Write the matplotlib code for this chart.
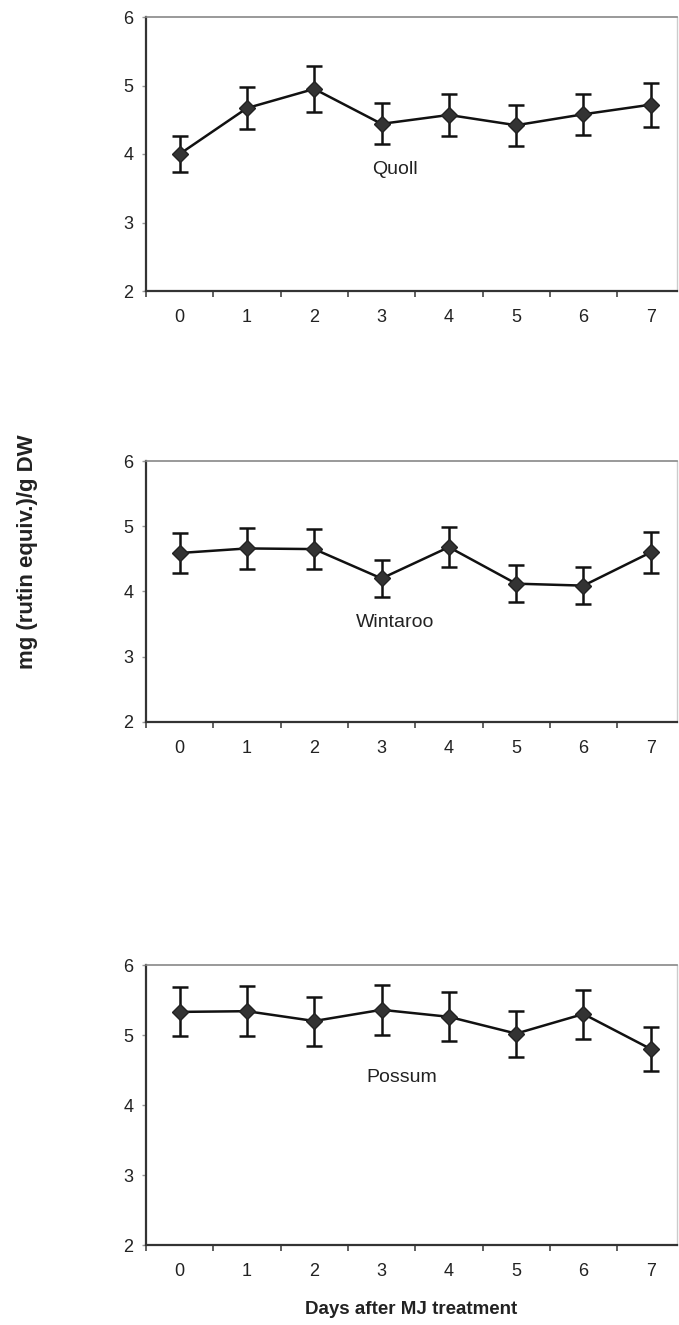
import numpy as np
import matplotlib.pyplot as plt
from matplotlib.ticker import FixedLocator

plt.rcParams['font.family'] = ['Liberation Sans', 'DejaVu Sans']

# Datos
dias = [0, 1, 2, 3, 4, 5, 6, 7]
etiquetas_dias = ['0', '1', '2', '3', '4', '5', '6', '7']

quoll = [4.00, 4.67, 4.95, 4.44, 4.57, 4.42, 4.58, 4.72]
quoll_err = [0.27, 0.31, 0.33, 0.30, 0.30, 0.30, 0.30, 0.32]

wintaroo = [4.59, 4.66, 4.65, 4.20, 4.68, 4.12, 4.09, 4.60]
wintaroo_err = [0.30, 0.31, 0.31, 0.28, 0.31, 0.28, 0.28, 0.31]

possum = [5.33, 5.34, 5.20, 5.36, 5.26, 5.02, 5.30, 4.80]
possum_err = [0.35, 0.36, 0.35, 0.36, 0.35, 0.33, 0.35, 0.32]

nombres = ['Quoll', 'Wintaroo', 'Possum']
series = [quoll, wintaroo, possum]
errores = [quoll_err, wintaroo_err, possum_err]
pos_etiqueta = [(3.2, 3.77), (3.2, 3.52), (3.3, 4.40)]

W, H = 679, 1325
fig = plt.figure(figsize=(W / 100, H / 100), dpi=100)

# (arriba, abajo) de cada panel en píxeles
paneles = [(17, 291), (461, 722), (965, 1245)]
izq, der = 146, 677

for (top, bot), nombre, y, e, (lx, ly) in zip(paneles, nombres, series, errores, pos_etiqueta):
    ax = fig.add_axes([izq / W, 1 - bot / H, (der - izq) / W, (bot - top) / H])
    ax.errorbar(dias, y, yerr=e, color='#111111', lw=1.8, elinewidth=1.8,
                capsize=5.5, capthick=1.8, marker='D', markersize=8.5,
                markerfacecolor='#333333', markeredgecolor='#222222', zorder=3)
    ax.text(lx, ly, nombre, ha='center', va='center', fontsize=14, color='#222222')

    ax.set_xlim(-0.5, 7.39)
    ax.set_ylim(2, 6)
    ax.set_yticks([2, 3, 4, 5, 6])
    ax.set_xticks(dias)
    ax.set_xticklabels(etiquetas_dias)
    ax.xaxis.set_minor_locator(FixedLocator(np.arange(-0.5, 7.0, 1.0)))
    ax.tick_params(axis='x', which='major', length=0, pad=13, labelsize=13, labelcolor='#222222')
    ax.tick_params(axis='x', which='minor', length=4, width=1.2, color='#444444', direction='out')
    ax.tick_params(axis='y', length=3, width=1, color='#999999', pad=6, labelsize=13, labelcolor='#222222')

    ax.spines['left'].set_color('#333333')
    ax.spines['left'].set_linewidth(1.6)
    ax.spines['bottom'].set_color('#333333')
    ax.spines['bottom'].set_linewidth(1.6)
    ax.spines['top'].set_color('#888888')
    ax.spines['top'].set_linewidth(1.2)
    ax.spines['right'].set_color('#cccccc')
    ax.spines['right'].set_linewidth(1.0)

fig.text(28 / W, 1 - 552 / H, 'mg (rutin equiv.)/g DW', rotation=90, ha='center', va='center',
         fontsize=16, fontweight='bold', color='#222222')
fig.text(411 / W, 1 - 1309 / H, 'Days after MJ treatment', ha='center', va='center',
         fontsize=13.5, fontweight='bold', color='#222222')

fig.savefig('out.png', dpi=100)
plt.close(fig)
